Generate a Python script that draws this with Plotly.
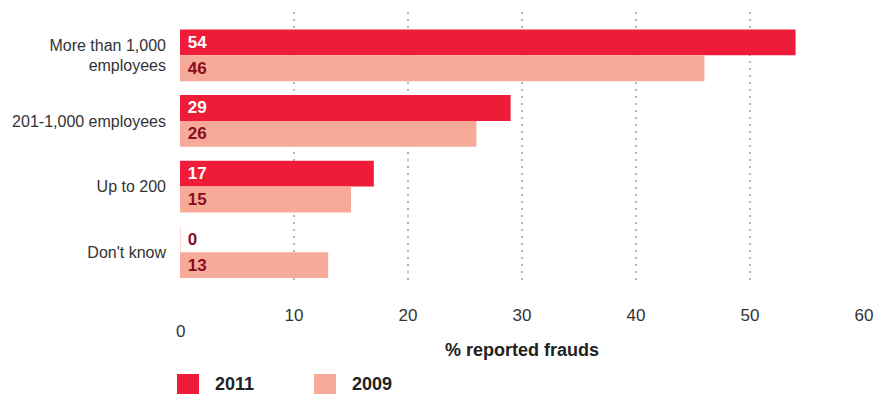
import plotly.graph_objects as go

categories = ["More than 1,000<br>employees", "201-1,000 employees", "Up to 200", "Don't know"]
values_2011 = [54, 29, 17, 0]
values_2009 = [46, 26, 15, 13]
x_ticks = [10, 20, 30, 40, 50, 60]
series_names = ["2011", "2009"]

RED = "#EE1C39"
SALMON = "#F7AA98"
DARK = "#8C0B1F"
FONT = "Liberation Sans, Arial, sans-serif"

fig = go.Figure()
fig.add_trace(go.Bar(
    y=categories, x=values_2011, orientation="h", name=series_names[0],
    marker=dict(color=RED, line=dict(width=[0 if v > 0 else 1 for v in values_2011], color="#F9CFC6")),
    text=["\u00a0" + str(v) for v in values_2011],
    textposition=["inside" if v > 0 else "outside" for v in values_2011],
    insidetextanchor="start",
    textfont=dict(family=FONT, size=17, color=["white" if v > 0 else DARK for v in values_2011], weight="bold"),
    cliponaxis=False, showlegend=False,
))
fig.add_trace(go.Bar(
    y=categories, x=values_2009, orientation="h", name=series_names[1],
    marker=dict(color=SALMON, line=dict(width=0)),
    text=["\u00a0" + str(v) for v in values_2009],
    textposition="inside", insidetextanchor="start",
    textfont=dict(family=FONT, size=17, color=DARK, weight="bold"),
    showlegend=False,
))

fig.update_layout(
    width=889, height=394,
    margin=dict(l=180, r=25, t=12, b=109),
    paper_bgcolor="white", plot_bgcolor="white",
    barmode="group", bargap=0.21, bargroupgap=0,
    font=dict(family=FONT, color="#333333"),
    uniformtext=dict(mode=False),
)
fig.update_xaxes(
    range=[0, 60], tickvals=x_ticks, ticktext=[str(v) for v in x_ticks],
    showgrid=True, gridcolor="#BDB5B0", gridwidth=2, griddash="2px,5px",
    zeroline=False, showline=False, ticks="",
    tickfont=dict(size=17, color="#333333", family=FONT),
    ticklabelstandoff=18,
)
fig.update_yaxes(
    type="category", categoryorder="array", categoryarray=categories,
    range=[3.5, -0.66], showgrid=False, zeroline=False, showline=False, ticks="",
    tickfont=dict(size=16, color="#333333", family=FONT),
    ticklabelstandoff=13,
)

annotations = [
    dict(text="0", x=0, xref="x", xanchor="center", y=-0.172, yref="paper", yanchor="middle",
         showarrow=False, font=dict(size=17, color="#333333", family=FONT)),
    dict(text="% reported frauds", x=0.5, xref="paper", xanchor="center", y=-0.238, yref="paper",
         yanchor="middle", showarrow=False, font=dict(size=18, color="#222222", family=FONT, weight="bold")),
]
# manual legend
legend_items = [(series_names[0], RED, -0.0044, 0.048), (series_names[1], SALMON, 0.196, 0.2485)]
shapes = []
for name, col, sx, tx in legend_items:
    shapes.append(dict(type="rect", xref="paper", yref="paper", x0=sx, x1=sx + 22 / 684,
                       y0=-109 / 273, y1=-89 / 273, fillcolor=col, line=dict(width=0)))
    annotations.append(dict(text=name, x=tx, xref="paper", xanchor="left", y=-99 / 273, yref="paper",
                            yanchor="middle", showarrow=False,
                            font=dict(size=18, color="#222222", family=FONT, weight="bold")))
fig.update_layout(annotations=annotations, shapes=shapes)

fig.write_html("out.html")
